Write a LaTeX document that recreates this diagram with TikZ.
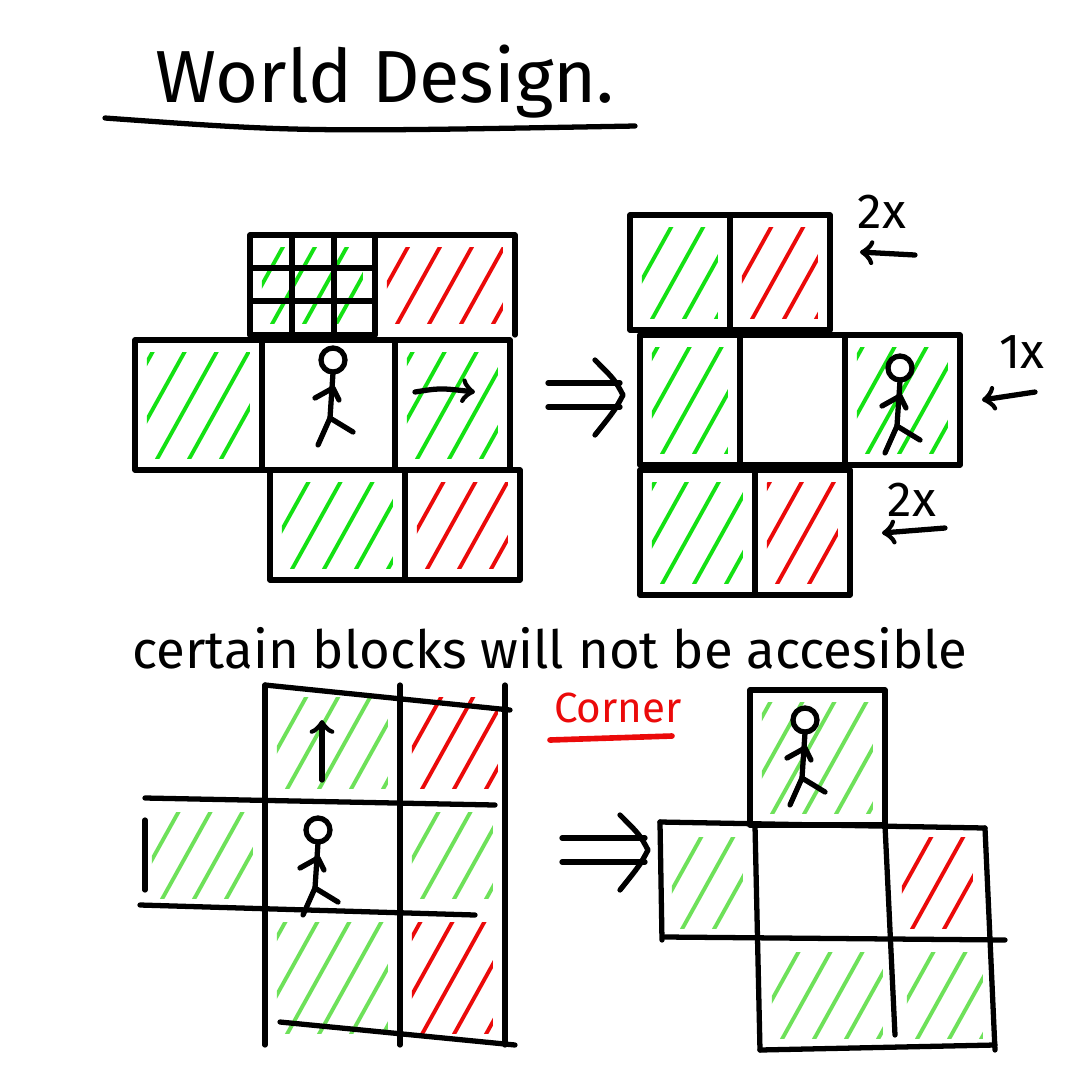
\documentclass[tikz,border=0pt]{standalone}
\usepackage{fontspec}
\setmainfont{Fira Sans}
\usetikzlibrary{positioning}

\definecolor{hgreen}{RGB}{20,225,20}
\definecolor{lgreen}{RGB}{110,225,90}
\definecolor{hred}{RGB}{235,10,10}

% hatched square, clipped a little inside its frame
\newcommand{\hatch}[5]{%
  \begin{scope}
    \clip (#1+12,#2+12) rectangle (#3-12,#4-12);
    \foreach \k in {-80,-48,...,170} \draw[#5,line width=1.1pt,line cap=round] (#1+\k,#4) -- ++(75,-135);
  \end{scope}}
% stick man, head centre at (#1,#2)
\newcommand{\stickman}[2]{%
  \draw[stroke] (#1,#2) circle[radius=1.2mm];
  \draw[stroke] (#1,#2+13) -- (#1-3,#2+58) -- (#1-15,#2+85);
  \draw[stroke] (#1-3,#2+58) -- (#1+20,#2+72);
  \draw[stroke] (#1-18,#2+38) -- (#1,#2+28) -- (#1+6,#2+40);}
% hand drawn implication arrow
\newcommand{\thenarrow}[3]{%
  \draw[stroke] (#1,#3-12) -- (#2,#3-12);
  \draw[stroke] (#1,#3+12) -- (#2,#3+12);
  \draw[stroke] (#2-25,#3-35) .. controls (#2-5,#3-15) .. (#2+3,#3) .. controls (#2-5,#3+15) .. (#2-25,#3+40);}

\tikzset{
  stroke/.style={line width=1.5pt,black,line cap=round,line join=round},
  cell/.style={stroke},
  hand/.style={font=\fontsize{14}{16}\selectfont}
}

\begin{document}
\begin{tikzpicture}[x=0.1mm,y=-0.1mm]
  \useasboundingbox[fill=white] (0,0) rectangle (1080,1080);

  % title
  \node[font=\fontsize{21}{25}\selectfont] (title) at (385,82) {World Design.};
  \draw[stroke] (105,118) .. controls (300,132) .. (635,126);

  % first example, before
  \hatch{250}{235}{375}{335}{hgreen}
  \foreach \t in {1,2} {
    \draw[stroke] (250,235+33*\t) -- (375,235+33*\t);
    \draw[stroke] (250+42*\t,235) -- (250+42*\t,335);}
  \hatch{375}{235}{515}{335}{hred}
  \hatch{135}{340}{262}{470}{hgreen}
  \hatch{395}{340}{510}{470}{hgreen}
  \hatch{270}{470}{405}{580}{hgreen}
  \hatch{405}{470}{520}{580}{hred}
  \draw[cell] (250,235) rectangle (375,335);
  \draw[cell] (375,235) -- (515,235) -- (515,335);
  \draw[cell] (135,340) rectangle (510,470);
  \draw[cell] (262,340) -- (262,470);
  \draw[cell] (395,340) -- (395,470);
  \draw[cell] (270,470) rectangle (520,580);
  \draw[cell] (405,470) -- (405,580);
  \stickman{333}{360}
  \draw[stroke,->] (415,392) .. controls (440,388) .. (475,392);
  \thenarrow{548}{620}{395}

  % first example, after
  \hatch{630}{215}{730}{330}{hgreen}
  \hatch{730}{215}{830}{330}{hred}
  \hatch{640}{335}{740}{465}{hgreen}
  \hatch{845}{335}{960}{465}{hgreen}
  \hatch{640}{470}{755}{595}{hgreen}
  \hatch{755}{470}{850}{595}{hred}
  \draw[cell] (630,215) rectangle (830,330);
  \draw[cell] (730,215) -- (730,330);
  \draw[cell] (640,335) rectangle (960,465);
  \draw[cell] (740,335) -- (740,465);
  \draw[cell] (845,335) -- (845,465);
  \draw[cell] (640,470) rectangle (850,595);
  \draw[cell] (755,470) -- (755,595);
  \stickman{900}{368}
  \node[hand] (twoa) at (882,212) {2x};
  \draw[stroke,->] (915,255) -- (860,252);
  \node[hand] (onex) at (1022,352) {1x};
  \draw[stroke,->] (1035,392) -- (982,400);
  \node[hand] (twob) at (912,500) {2x};
  \draw[stroke,->] (945,528) -- (882,533);

  \node[font=\fontsize{15}{18}\selectfont] (note) at (550,648) {certain blocks will not be accesible};

  % second example, before
  \hatch{265}{685}{400}{800}{lgreen}
  \hatch{400}{685}{510}{800}{hred}
  \hatch{140}{800}{265}{910}{lgreen}
  \hatch{400}{800}{505}{910}{lgreen}
  \hatch{265}{910}{400}{1045}{lgreen}
  \hatch{400}{910}{505}{1045}{hred}
  \draw[cell] (265,685) -- (265,1045);
  \draw[cell] (400,685) -- (400,1045);
  \draw[cell] (505,685) -- (505,1045);
  \draw[cell] (265,685) -- (510,710);
  \draw[cell] (145,798) -- (495,805);
  \draw[cell] (140,905) -- (475,915);
  \draw[cell] (145,820) -- (145,890);
  \draw[cell] (280,1022) -- (515,1045);
  \stickman{318}{830}
  \draw[stroke,->] (322,780) -- (322,720);
  \node[font=\fontsize{12}{14}\selectfont,text=hred] (corner) at (618,708) {Corner};
  \draw[line width=1.6pt,hred,line cap=round] (550,740) -- (672,736);
  \thenarrow{562}{645}{850}

  % second example, after
  \hatch{750}{690}{885}{825}{lgreen}
  \hatch{660}{825}{755}{940}{lgreen}
  \hatch{890}{825}{985}{940}{hred}
  \hatch{760}{940}{895}{1050}{lgreen}
  \hatch{895}{940}{995}{1050}{lgreen}
  \draw[cell] (750,690) rectangle (885,825);
  \draw[cell] (660,822) -- (985,828);
  \draw[cell] (660,822) -- (662,940);
  \draw[cell] (985,828) -- (995,1050);
  \draw[cell] (665,937) -- (1005,940);
  \draw[cell] (755,825) -- (760,1050);
  \draw[cell] (885,825) -- (895,1035);
  \draw[cell] (760,1050) -- (995,1045);
  \stickman{805}{720}
\end{tikzpicture}
\end{document}
